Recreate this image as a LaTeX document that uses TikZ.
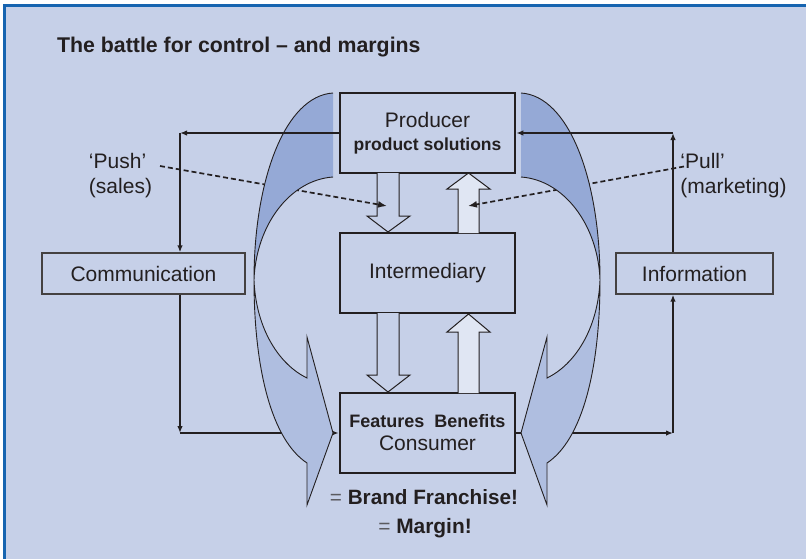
\documentclass[tikz,border=0pt]{standalone}
\usepackage{fontspec}
\setmainfont{Liberation Sans}
\usetikzlibrary{arrows.meta,calc}
\definecolor{panelbg}{RGB}{198,208,232}
\definecolor{darkband}{RGB}{149,169,214}
\definecolor{lightband}{RGB}{175,190,224}
\definecolor{upfill}{RGB}{224,230,243}
\definecolor{framebl}{RGB}{22,100,176}
\definecolor{ink}{RGB}{35,31,32}
\definecolor{eqgray}{RGB}{90,90,95}
\begin{document}
\begin{tikzpicture}[x=1pt,y=-1pt,
  every node/.style={font=\fontsize{21}{25}\selectfont,text=ink},
  mainbox/.style={draw=ink,line width=2.6pt,minimum width=175pt,minimum height=80pt,align=center,inner sep=0pt,font=\fontsize{21}{23}\selectfont},
  sidebox/.style={draw=ink!85,line width=1.3pt,minimum height=41pt,inner sep=0pt},
  conn/.style={draw=ink,line width=1.4pt,-{Latex[length=7pt,width=5.5pt]}},
  hint/.style={draw=ink,dash pattern=on 5pt off 3pt,line width=1.7pt,-{Latex[length=9pt,width=7pt]}},
  band/.style={draw=ink,line width=0.9pt},
  blockdn/.style={draw=ink,line width=1pt,fill=panelbg},
  blockup/.style={draw=ink,line width=1pt,fill=upfill}]
\useasboundingbox (0,0) rectangle (806,558);
\clip (0,0) rectangle (806,558);
% panel and frame
\fill[white] (0,0) rectangle (806,558);
\fill[panelbg] (4.5,5) rectangle (812,566);
\draw[framebl,line width=3pt] (4.5,5) rectangle (812,566);
\node[anchor=west,inner sep=0pt,font=\bfseries\fontsize{21.3}{25}\selectfont] (title) at (57,47) {The battle for control – and margins};
% the chain
\node[mainbox] (prod) at (427.5,133) {Producer\\{\bfseries\fontsize{17.5}{23}\selectfont product solutions}};
\node[mainbox] (inter) at (427.5,273) {Intermediary};
\node[mainbox] (cons) at (427.5,433) {{\bfseries\fontsize{18}{23}\selectfont Features\ \ Benefits}\\Consumer};
\node[sidebox,minimum width=203pt] (comm) at (143.5,273.5) {Communication};
\node[sidebox,minimum width=157pt] (info) at (694.5,273.5) {Information};
\node[align=left,inner sep=0pt] (push) at (120.5,176) {‘Push’\\(sales)};
\node[align=left,inner sep=0pt] (pull) at (733.5,176) {‘Pull’\\(marketing)};
\node[font=\bfseries\fontsize{20.7}{24}\selectfont] (brand) at (424,497) {{\mdseries\color{eqgray}=} Brand Franchise!};
\node[font=\bfseries\fontsize{20.9}{24}\selectfont] (margin) at (425,528) {{\mdseries\color{eqgray}=} Margin!};
% block arrows
\draw[blockdn] (377,173) -- (377,216) -- (367,216) -- (388,232) -- (410,216) -- (399,216) -- (399,173);
\draw[blockup] (458,233) -- (458,189) -- (447,189) -- (468.5,173) -- (490,189) -- (479,189) -- (479,233);
\draw[blockdn] (377,313) -- (377,375) -- (367,375) -- (388,392) -- (410,375) -- (399,375) -- (399,313);
\draw[blockup] (458,393) -- (458,332) -- (447,332) -- (468.5,314) -- (490,332) -- (479,332) -- (479,393);
% corners of the loops
\coordinate (cul) at (180,133);
\coordinate (cll) at (180,433);
\coordinate (cur) at (673,133);
\coordinate (clr) at (673,433);
\coordinate (pushfrom) at (160,166);
\coordinate (pullfrom) at (684,166.5);
\draw[conn] (cll) -- (cons.west);
\draw[conn] (cons.east) -- (clr);
\draw[hint] (pushfrom) -- (387,206);
\draw[hint] (pullfrom) -- (468,206);
% curved bands
\foreach \s/\o in {1/0,-1/854}{
\begin{scope}[shift={(\o,0)},xscale=\s]
\fill[darkband] (333,93) .. controls (285,96) and (254,180) .. (254,280)
  .. controls (256,225) and (290,180) .. (333,177) -- cycle;
\fill[lightband] (254,280) .. controls (254,370) and (272,440) .. (307,463) -- (307,505) -- (333,433) -- (307,337) -- (307,378)
  .. controls (280,365) and (256,330) .. (254,280) -- cycle;
\draw[band] (333,93) .. controls (285,96) and (254,180) .. (254,280)
  .. controls (254,370) and (272,440) .. (307,463) -- (307,505) -- (333,433) -- (307,337) -- (307,378)
  .. controls (280,365) and (256,330) .. (254,280)
  .. controls (256,225) and (290,180) .. (333,177);
\end{scope}}
% loops
\draw[conn] (prod.west) -- (cul);
\draw[conn] (cul) -- (cul |- comm.north);
\draw[conn] (cul |- comm.south) -- (cll);
\draw[conn] (clr) -- (clr |- info.south);
\draw[conn] (clr |- info.north) -- (cur);
\draw[conn] (cur) -- (prod.east);
\end{tikzpicture}
\end{document}
